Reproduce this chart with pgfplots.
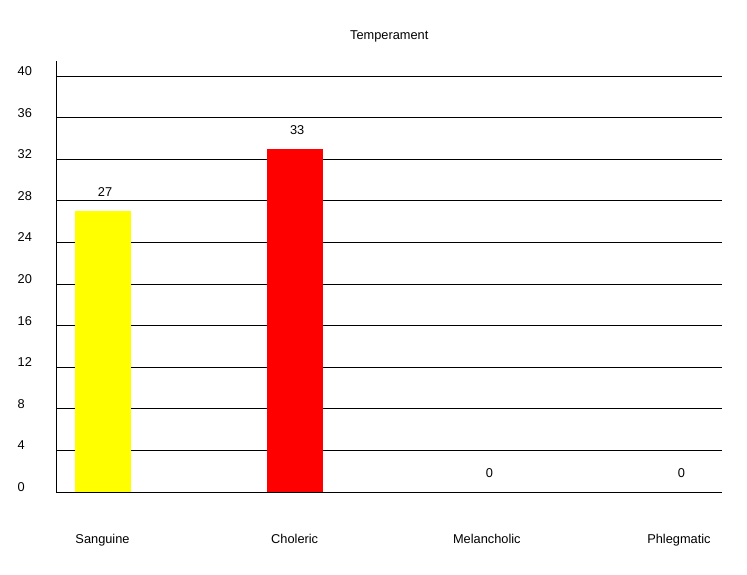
\documentclass[border=0pt]{standalone}
\usepackage{fontspec}
\setmainfont{Liberation Sans}
\usepackage{pgfplots}
\pgfplotsset{compat=1.18}
\begin{document}
\begin{tikzpicture}
\begin{axis}[
  at={(0,0)}, anchor=south west,
  scale only axis,
  width=665.5pt, height=431pt,
  xmin=-0.2396, xmax=3.224,
  ymin=0, ymax=41.44,
  axis x line*=bottom, axis y line*=left,
  axis line style={black, line width=0.8pt},
  ytick={0,4,...,40},
  xtick={0,1,2,3},
  xticklabels={Sanguine,Choleric,Melancholic,Phlegmatic},
  major tick length=0pt,
  ymajorgrids,
  grid style={black, line width=0.8pt},
  font=\fontsize{12.8}{14}\selectfont,
  /pgf/number format/assume math mode=true,
  yticklabel style={anchor=base west, inner sep=0pt, xshift=-39pt, yshift=0.5pt},
  xticklabel style={anchor=base, inner sep=0pt, yshift=-51pt},
  title={Temperament},
  title style={anchor=base, inner sep=0pt, yshift=15.5pt},
  ybar, bar width=56pt, bar shift=0pt,
  nodes near coords,
  every node near coord/.append style={anchor=center, yshift=19pt, xshift=2.5pt, font=\fontsize{12.8}{14}\selectfont},
]
\addplot[fill={rgb,255:red,255;green,255;blue,0}, draw=none] coordinates {(0,27)};
\addplot[fill={rgb,255:red,255;green,0;blue,0}, draw=none] coordinates {(1,33)};
\addplot[fill=none, draw=none] coordinates {(2,0)};
\addplot[fill=none, draw=none] coordinates {(3,0)};
\end{axis}
\pgfresetboundingbox
\path[use as bounding box] (-56.5pt,-82pt) rectangle (690.5pt,492pt);
\end{tikzpicture}
\end{document}
